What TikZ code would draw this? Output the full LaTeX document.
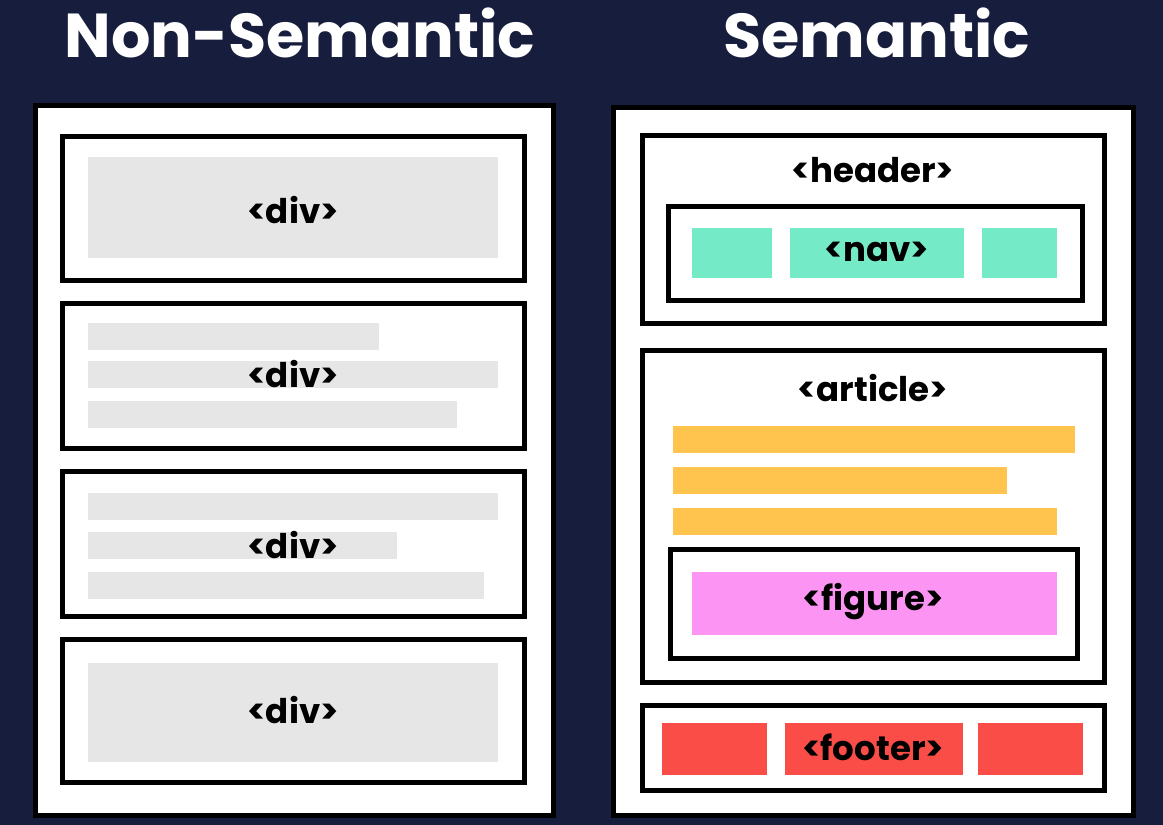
\documentclass[tikz,border=0pt]{standalone}
\usepackage{fontspec}
\setmainfont{Poppins}
\definecolor{navy}{HTML}{161D3D}
\definecolor{grayfill}{HTML}{E6E6E6}
\definecolor{teal}{HTML}{74EBC6}
\definecolor{amber}{HTML}{FFC44D}
\definecolor{pink}{HTML}{FB94F2}
\definecolor{tomato}{HTML}{FB4D47}
\tikzset{
  frame/.style={draw=black,line width=5pt,fill=white},
  box/.style={draw=black,line width=5pt},
  title/.style={text=white,font=\fontsize{62}{62}\selectfont\bfseries},
  tag/.style={font=\fontsize{34}{34}\selectfont\bfseries},
}
\begin{document}
\begin{tikzpicture}[x=1pt,y=-1pt]
\fill[navy] (0,0) rectangle (1163,825);
\useasboundingbox (0,0) rectangle (1163,825);

% titles
\node[title] (tl) at (300,33) {Non-Semantic};
\node[title] (tr) at (877,33) {Semantic};

% non-semantic page
\draw[frame] (35,105) rectangle (553,815);
\foreach \t/\b in {136/280,303/448,471/616,639/782}
  \draw[box] (62,\t) rectangle (524,\b);
\fill[grayfill] (88,157) rectangle (498,258);
\fill[grayfill] (88,323) rectangle (379,350);
\fill[grayfill] (88,361) rectangle (498,388);
\fill[grayfill] (88,401) rectangle (457,428);
\fill[grayfill] (88,493) rectangle (498,520);
\fill[grayfill] (88,532) rectangle (397,559);
\fill[grayfill] (88,572) rectangle (484,599);
\fill[grayfill] (88,663) rectangle (498,762);
\foreach \y/\n in {210/d1,374/d2,545/d3,710/d4}
  \node[tag] (\n) at (293,\y) {<div>};

% semantic page
\draw[frame] (613,107) rectangle (1133,815);
% header
\draw[box] (642,135) rectangle (1104,323);
\node[tag] (hd) at (873,170) {<header>};
\draw[box] (668,206) rectangle (1082,300);
\fill[teal] (692,228) rectangle (772,278);
\fill[teal] (790,228) rectangle (964,278);
\fill[teal] (982,228) rectangle (1057,278);
\node[tag] (nv) at (877,252) {<nav>};
% article
\draw[box] (642,350) rectangle (1104,682);
\node[tag] (ar) at (873,388) {<article>};
\fill[amber] (673,426) rectangle (1075,453);
\fill[amber] (673,467) rectangle (1007,494);
\fill[amber] (673,508) rectangle (1057,535);
\draw[box] (670,549) rectangle (1077,658);
\fill[pink] (692,572) rectangle (1057,635);
\node[tag] (fg) at (873,602) {<figure>};
% footer
\draw[box] (642,705) rectangle (1104,790);
\fill[tomato] (662,723) rectangle (767,775);
\fill[tomato] (785,723) rectangle (963,775);
\fill[tomato] (978,723) rectangle (1083,775);
\node[tag] (ft) at (873,747) {<footer>};
\end{tikzpicture}
\end{document}
